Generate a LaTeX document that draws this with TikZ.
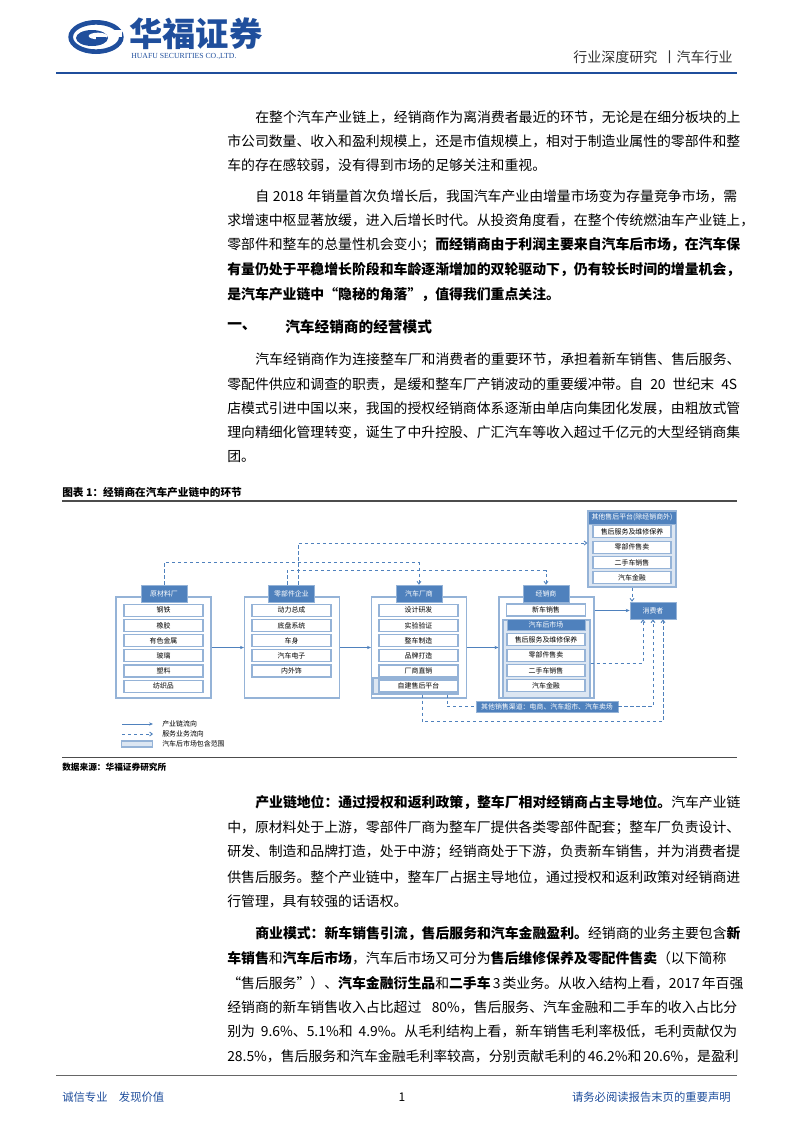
\documentclass[tikz,border=0pt]{standalone}
\usepackage{fontspec}
\setmainfont{Noto Sans CJK SC}
\newfontfamily\latinser{Liberation Serif}
\usetikzlibrary{arrows.meta,shapes.geometric}
\XeTeXlinebreaklocale "zh"
\XeTeXlinebreakskip=0pt plus 2pt minus 0.3pt
\definecolor{hdrblue}{HTML}{4F81BD}
\definecolor{bord}{HTML}{95B3D7}
\definecolor{lfill}{HTML}{DCE6F2}
\definecolor{logoblue}{HTML}{1F4E9C}
\newlength\lw \setlength\lw{382.5pt}
\newlength\lwi \setlength\lwi{361.5pt}
\newcommand\fl[1]{\hbox to \lw{#1}}
\newcommand\fli[1]{\hbox to \lwi{#1}}
\begin{document}
\begin{tikzpicture}[x=0.75pt,y=-0.75pt,
  body/.style={anchor=west,inner sep=0pt,font=\fontsize{10.4pt}{12pt}\selectfont},
  hdr/.style={fill=hdrblue,draw=bord,text=white,minimum width=34.5pt,minimum height=12.75pt,inner sep=0pt,font=\fontsize{5.2pt}{6pt}\selectfont},
  item/.style={fill=white,draw=bord,line width=0.8pt,minimum width=59.25pt,minimum height=9pt,inner sep=0pt,font=\fontsize{5.2pt}{6pt}\selectfont},
  outer/.style={draw=bord,line width=0.8pt,minimum width=71.25pt,minimum height=75.75pt,inner sep=0pt},
  lbox/.style={fill=lfill,draw=bord,line width=0.8pt,inner sep=0pt},
  sol/.style={hdrblue,line width=0.7pt,-{Stealth[length=3pt,width=2.5pt]}},
  dsh/.style={hdrblue,line width=0.7pt,dash pattern=on 2.5pt off 2pt,-{Straight Barb[length=2pt,width=3pt]}}]
\useasboundingbox (0,0) rectangle (793,1122);
% header logo
\node[draw=logoblue,line width=3.5pt,ellipse,minimum width=38pt,minimum height=22pt,inner sep=0pt] (logoa) at (96,37) {};
\fill[white] (112,30) rectangle (122,37);
\fill[logoblue] (92,38) ellipse (12pt and 6pt);
\fill[white] (98,36) ellipse (7pt and 2.5pt);
\fill[logoblue] (96,37) -- (106,37) -- (106,41) -- (96,41) -- cycle;
\node[anchor=west,text=logoblue,font=\fontsize{25pt}{27pt}\selectfont\bfseries,inner sep=0pt] (brand) at (129,34) {华福证券};
\node[anchor=west,text=logoblue,font=\latinser\fontsize{5.8pt}{6pt}\selectfont,inner sep=0pt] (brand2) at (131,57) {HUAFU SECURITIES CO.,LTD.};
\node[anchor=east,text=black!80,font=\fontsize{10.5pt}{12pt}\selectfont,inner sep=0pt] (rh) at (733,57) {行业深度研究 \,丨汽车行业};
\fill[logoblue] (56,71.5) rectangle (737,74);
% body paragraphs
\node[body] (p1) at (255,117) {\fli{在整个汽车产业链上，经销商作为离消费者最近的环节，无论是在细分板块的上}};
\node[body] (p2) at (227,141) {\fl{市公司数量、收入和盈利规模上，还是市值规模上，相对于制造业属性的零部件和整}};
\node[body] (p3) at (227,165) {车的存在感较弱，没有得到市场的足够关注和重视。};
\node[body] (p4) at (255,196) {\fli{自 2018 年销量首次负增长后，我国汽车产业由增量市场变为存量竞争市场，需}};
\node[body] (p5) at (227,220) {\fl{求增速中枢显著放缓，进入后增长时代。从投资角度看，在整个传统燃油车产业链上，}};
\node[body] (p6) at (227,245) {\fl{零部件和整车的总量性机会变小；\bfseries 而经销商由于利润主要来自汽车后市场，在汽车保}};
\node[body,font=\fontsize{10.4pt}{12pt}\selectfont\bfseries] (p7) at (227,270) {\fl{有量仍处于平稳增长阶段和车龄逐渐增加的双轮驱动下，仍有较长时间的增量机会，}};
\node[body,font=\fontsize{10.4pt}{12pt}\selectfont\bfseries] (p8) at (227,295) {是汽车产业链中“隐秘的角落”，值得我们重点关注。};
\node[body,font=\fontsize{11pt}{12pt}\selectfont\bfseries] (h1) at (227,327) {一、};
\node[body,font=\fontsize{11pt}{12pt}\selectfont\bfseries] (h1b) at (285,327) {汽车经销商的经营模式};
\node[body] (q1) at (255,359) {\fli{汽车经销商作为连接整车厂和消费者的重要环节，承担着新车销售、售后服务、}};
\node[body] (q2) at (227,384) {\fl{零配件供应和调查的职责，是缓和整车厂产销波动的重要缓冲带。自 20 世纪末 4S}};
\node[body] (q3) at (227,408) {\fl{店模式引进中国以来，我国的授权经销商体系逐渐由单店向集团化发展，由粗放式管}};
\node[body] (q4) at (227,432) {\fl{理向精细化管理转变，诞生了中升控股、广汇汽车等收入超过千亿元的大型经销商集}};
\node[body] (q5) at (227,457) {团。};
% figure caption
\node[body,font=\fontsize{8pt}{9pt}\selectfont\bfseries] (cap) at (62,492) {图表 1：经销商在汽车产业链中的环节};
\draw[black!70,line width=0.8pt] (62,501) -- (737,501);
\draw[black!70,line width=0.5pt] (62,757) -- (737,757);
\node[body,font=\fontsize{6.5pt}{7pt}\selectfont\bfseries] (src) at (62,767) {数据来源：华福证券研究所};
% diagram
\node[outer] (raw) at (163.5,647.5) {};
\node[outer] (parts) at (292,647.5) {};
\node[outer] (oem) at (419,647.5) {};
\node[outer] (deal) at (546.5,647.5) {};
\node[lbox,minimum width=63.75pt,minimum height=12pt] (selfp) at (415.5,686) {};
\node[lbox,minimum width=65.25pt,minimum height=58.5pt] (after) at (546.5,659) {};
\node[lbox,minimum width=66pt,minimum height=57pt] (otherp) at (632,549) {};
\node[hdr] (rawh) at (164,593.5) {原材料厂};
\node[hdr] (partsh) at (291.5,593.5) {零部件企业};
\node[hdr] (oemh) at (419,593.5) {汽车厂商};
\node[hdr] (dealh) at (546,593.5) {经销商};
\node[hdr,minimum width=66pt,minimum height=9.75pt] (otherh) at (632,517.5) {其他售后平台(除经销商外)};
\node[hdr,minimum width=58.5pt,minimum height=8pt] (afterh) at (546,625) {汽车后市场};
\node[hdr,minimum width=34.5pt] (cons) at (653,610.5) {消费者};
\node[hdr,minimum width=106.5pt,minimum height=8.5pt] (other) at (547,706.5) {其他销售渠道：电商、汽车超市、汽车卖场};
\foreach \t [count=\i] in {钢铁,橡胶,有色金属,玻璃,塑料,纺织品}
  \node[item] (r\i) at (163.5,{595+15.2*\i}) {\t};
\foreach \t [count=\i] in {动力总成,底盘系统,车身,汽车电子,内外饰}
  \node[item] (pp\i) at (291.5,{595+15.2*\i}) {\t};
\foreach \t [count=\i] in {设计研发,实验验证,整车制造,品牌打造,厂商直销}
  \node[item] (o\i) at (418.5,{595+15.2*\i}) {\t};
\node[item] (o6) at (418.5,686) {自建售后平台};
\node[item] (d1) at (546,610) {新车销售};
\foreach \t [count=\i] in {售后服务及维修保养,零部件售卖,二手车销售,汽车金融}
  \node[item,minimum width=58.5pt] (a\i) at (546,{624.5+15.3*\i}) {\t};
\foreach \t [count=\i] in {售后服务及维修保养,零部件售卖,二手车销售,汽车金融}
  \node[item,minimum width=58.5pt] (op\i) at (632,{516.5+15.3*\i}) {\t};
% solid arrows
\draw[sol] (raw.east) -- (parts.west);
\draw[sol] (parts.east) -- (oem.west);
\draw[sol] (oem.east) -- (deal.west);
\draw[sol] (deal.east |- cons.west) -- (cons.west);
% dashed
\draw[dsh] (rawh.north) -- ++(0,-22) -| (oemh.north);
\draw[dsh] ([xshift=5.25pt]partsh.north) |- ([yshift=4.5pt]otherp.west);
\draw[dsh] ([xshift=-3.4pt]partsh.north) -- ++(0,-14) -| (dealh.north);
\draw[dsh] ([yshift=-3pt]after.east) -| ([xshift=-7.5pt]cons.south);
\draw[dsh] (other.east) -| (cons.south);
\draw[dsh] ([xshift=4.9pt]selfp.south) -- ++(0,27) -| ([xshift=7.5pt]cons.south);
\draw[dsh,-] ([xshift=23.6pt]selfp.south) |- (other.west);
\draw[dsh] (otherp.south) -- (otherp.south |- cons.north);
% legend
\coordinate (l1a) at (122,724); \coordinate (l1b) at (153,724);
\coordinate (l2a) at (122,734); \coordinate (l2b) at (153,734);
\draw[sol] (l1a) -- (l1b);
\draw[dsh] (l2a) -- (l2b);
\node[lbox,minimum width=23pt,minimum height=4.5pt] (l3) at (137,744) {};
\node[body,font=\fontsize{5.2pt}{6pt}\selectfont] (lt1) at (162,724) {产业链流向};
\node[body,font=\fontsize{5.2pt}{6pt}\selectfont] (lt2) at (162,734) {服务业务流向};
\node[body,font=\fontsize{5.2pt}{6pt}\selectfont] (lt3) at (162,744) {汽车后市场包含范围};
% lower paragraphs
\node[body] (s1) at (255,803) {\fli{\bfseries 产业链地位：通过授权和返利政策，整车厂相对经销商占主导地位。\mdseries 汽车产业链}};
\node[body] (s2) at (227,828) {\fl{中，原材料处于上游，零部件厂商为整车厂提供各类零部件配套；整车厂负责设计、}};
\node[body] (s3) at (227,852) {\fl{研发、制造和品牌打造，处于中游；经销商处于下游，负责新车销售，并为消费者提}};
\node[body] (s4) at (227,877) {\fl{供售后服务。整个产业链中，整车厂占据主导地位，通过授权和返利政策对经销商进}};
\node[body] (s5) at (227,901) {行管理，具有较强的话语权。};
\node[body] (t1) at (255,934) {\fli{\bfseries 商业模式：新车销售引流，售后服务和汽车金融盈利。\mdseries 经销商的业务主要包含\bfseries 新}};
\node[body] (t2) at (227,958) {\fl{\bfseries 车销售\mdseries 和\bfseries 汽车后市场\mdseries ，汽车后市场又可分为\bfseries 售后维修保养及零配件售卖\mdseries （以下简称}};
\node[body] (t3) at (227,983) {\fl{“售后服务”）、\bfseries 汽车金融衍生品\mdseries 和\bfseries 二手车\mdseries \ 3 类业务。从收入结构上看，2017 年百强}};
\node[body] (t4) at (227,1007) {\fl{经销商的新车销售收入占比超过 80\%，售后服务、汽车金融和二手车的收入占比分}};
\node[body] (t5) at (227,1031) {\fl{别为 9.6\%、5.1\%和 4.9\%。从毛利结构上看，新车销售毛利率极低，毛利贡献仅为}};
\node[body] (t6) at (227,1056) {\fl{28.5\%，售后服务和汽车金融毛利率较高，分别贡献毛利的 46.2\%和 20.6\%，是盈利}};
% footer
\draw[black!60,line width=0.6pt] (56,1075) -- (737,1075);
\node[body,font=\fontsize{8.5pt}{10pt}\selectfont,text=logoblue] (f1) at (62,1097) {诚信专业\quad 发现价值};
\node[font=\fontsize{9pt}{10pt}\selectfont,inner sep=0pt] (f2) at (402,1097) {1};
\node[anchor=east,inner sep=0pt,font=\fontsize{8.5pt}{10pt}\selectfont,text=logoblue] (f3) at (731,1097) {请务必阅读报告末页的重要声明};
\end{tikzpicture}
\end{document}
